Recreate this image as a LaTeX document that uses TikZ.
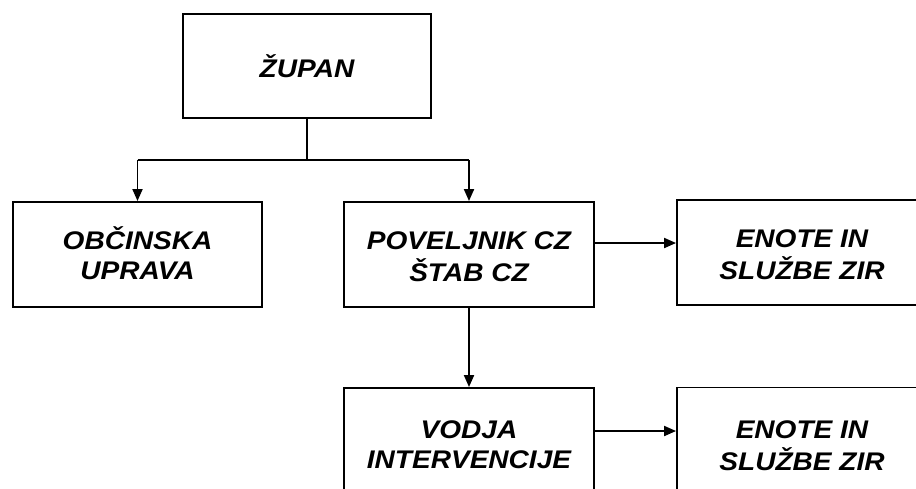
\documentclass[tikz,border=0pt]{standalone}
\usepackage{fontspec}
\setmainfont{Liberation Sans}[FakeStretch=1.1]
\usetikzlibrary{arrows.meta}
% #1 = downward shift of the text block's visual centre from the box centre
\newcommand{\boxtext}[2]{\raisebox{\dimexpr6.25pt-#1\relax}[0pt][0pt]{\begin{tabular}[t]{@{}c@{}}#2\end{tabular}}}
\tikzset{
  box/.style={draw=black, line width=1.9pt, fill=white, minimum width=#1, minimum height=105pt, inner sep=0pt, align=center,
    font=\fontsize{25.5}{30}\selectfont\bfseries\itshape},
  box/.default=250pt,
  conn/.style={line width=1.9pt, draw=black},
  arr/.style={conn, -{Triangle[length=12pt,width=10pt]}}
}
\begin{document}
\begin{tikzpicture}[x=1pt,y=-1pt]
\clip (0,0) rectangle (916,488);
\fill[white] (0,0) rectangle (916,488);
\node[box=248pt, minimum height=104pt] (zupan) at (307,66) {ŽUPAN};
\node[box=249pt] (obc) at (137.5,254.5) {\boxtext{1pt}{OBČINSKA\\UPRAVA}};
\node[box] (pov) at (469,254.5) {\boxtext{1pt}{POVELJNIK CZ\\ŠTAB CZ}};
\node[box] (en1) at (802,252.5) {\boxtext{1.5pt}{ENOTE IN\\SLUŽBE ZIR}};
\node[box] (vod) at (469,440.5) {\boxtext{4.5pt}{VODJA\\INTERVENCIJE}};
\node[box] (en2) at (802,440) {\boxtext{5pt}{ENOTE IN\\SLUŽBE ZIR}};
\coordinate (j) at (307,160);
\draw[conn] (zupan.south) -- (j);
\draw[conn] (obc.north |- j) -- (pov.north |- j);
\draw[arr] (obc.north |- j) -- (obc.north);
\draw[arr] (pov.north |- j) -- (pov.north);
\draw[arr] ([yshift=11.5pt]pov.east) -- ([yshift=11.5pt]pov.east -| en1.west);
\draw[arr] (pov.south) -- (vod.north);
\draw[arr] ([yshift=9.5pt]vod.east) -- ([yshift=9.5pt]vod.east -| en2.west);
\end{tikzpicture}
\end{document}
